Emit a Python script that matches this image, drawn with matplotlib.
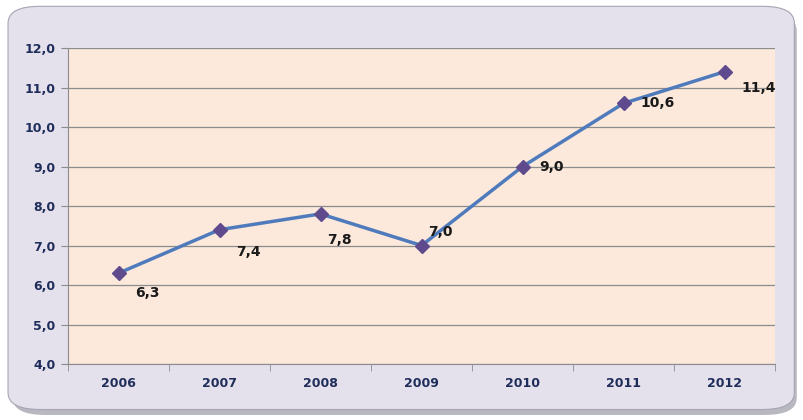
import matplotlib
matplotlib.use("Agg")
import matplotlib.pyplot as plt
from matplotlib.patches import FancyBboxPatch

# data
years = ["2006", "2007", "2008", "2009", "2010", "2011", "2012"]
values = [6.3, 7.4, 7.8, 7.0, 9.0, 10.6, 11.4]
# label offsets in points (dx, dy)
label_offsets = [(12, -14), (12, -16), (5, -19), (5, 10), (12, 0), (12, 0), (12, -12)]

fig = plt.figure(figsize=(8.04, 4.2), dpi=100)
fig.patch.set_facecolor("white")

# rounded background with a soft shadow
shadow = FancyBboxPatch((0.016, 0.012), 0.975, 0.955, boxstyle="round,pad=0,rounding_size=0.04",
                        transform=fig.transFigure, facecolor="#B8B8C0", edgecolor="none", zorder=0)
box = FancyBboxPatch((0.010, 0.025), 0.978, 0.960, boxstyle="round,pad=0,rounding_size=0.04",
                     transform=fig.transFigure, facecolor="#E4E0EC", edgecolor="#A8A4B4",
                     linewidth=0.8, zorder=1)
fig.patches.extend([shadow, box])

ax = fig.add_axes([0.0846, 0.1333, 0.8794, 0.7524])
ax.set_zorder(2)
ax.set_facecolor("#FCE9DB")

x = list(range(len(years)))
ax.plot(x, values, color="#4F7BBD", linewidth=2.5, marker="D", markersize=7,
        markerfacecolor="#5E4A8C", markeredgecolor="#5E4A8C", zorder=3)

for xi, v, (dx, dy) in zip(x, values, label_offsets):
    ax.annotate(f"{v:.1f}".replace(".", ","), (xi, v), xytext=(dx, dy), textcoords="offset points",
                ha="left", va="center", fontsize=10, fontweight="bold", color="#1A1A1A")

ax.set_xlim(-0.5, 6.5)
ax.set_ylim(4, 12)
ax.set_yticks([4, 5, 6, 7, 8, 9, 10, 11, 12])
ax.set_yticklabels([f"{t:.1f}".replace(".", ",") for t in range(4, 13)])
ax.set_xticks(x)
ax.set_xticklabels(years)
ax.set_xticks([i + 0.5 for i in range(-1, 7)], minor=True)

ax.grid(axis="y", color="#8C8C8C", linewidth=0.9, zorder=1)
ax.set_axisbelow(True)
for s in ["top", "right"]:
    ax.spines[s].set_visible(False)
for s in ["left", "bottom"]:
    ax.spines[s].set_color("#8C8C8C")

ax.tick_params(axis="y", length=5, color="#8C8C8C", labelsize=9, labelcolor="#1F2D5A", pad=4)
ax.tick_params(axis="x", which="major", length=0, labelsize=9, labelcolor="#1F2D5A", pad=9)
ax.tick_params(axis="x", which="minor", length=5, color="#8C8C8C")
for lab in ax.get_xticklabels() + ax.get_yticklabels():
    lab.set_fontweight("bold")

fig.savefig("out.png", dpi=100)
